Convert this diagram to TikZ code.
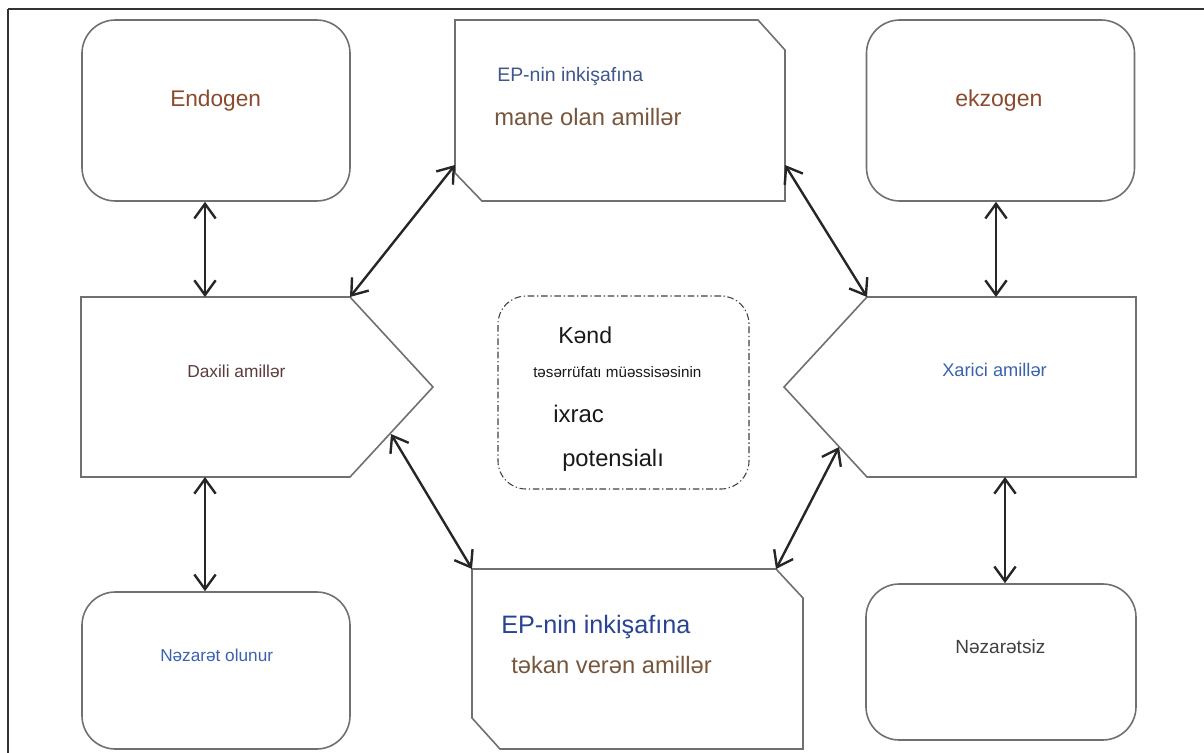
\documentclass[tikz,border=0pt]{standalone}
\usepackage{fontspec}
\setmainfont{Liberation Sans}
\usetikzlibrary{arrows.meta}

\definecolor{boxgray}{RGB}{112,112,112}
\definecolor{rustbrown}{RGB}{139,74,46}
\definecolor{mudbrown}{RGB}{120,86,60}
\definecolor{darkbrown}{RGB}{92,60,58}
\definecolor{slateblue}{RGB}{62,86,138}
\definecolor{deepblue}{RGB}{40,68,146}
\definecolor{midblue}{RGB}{58,98,176}

\begin{document}
\begin{tikzpicture}[x=0.75pt, y=-0.75pt,
    every node/.style={inner sep=0pt},
    outline/.style={draw=boxgray, line width=1.2pt},
    roundbox/.style={outline, rounded corners=25pt, minimum width=201pt},
    link/.style={{Straight Barb[length=11pt,width=16pt]}-{Straight Barb[length=11pt,width=16pt]}, line width=1.8pt, black!85},
    lbl/.style={anchor=base west}]
    \useasboundingbox (0,0) rectangle (1204,753);

    % frame
    \draw[line width=1.1pt, black!80] (8,9) -- (1204,9);
    \draw[line width=1.1pt, black!80] (8,9) -- (8,753);

    % rounded boxes
    \node[roundbox, minimum height=135.75pt] (endo) at (216,110.5) {};
    \node[roundbox, minimum height=135.75pt] (ekzo) at (1000.5,110.5) {};
    \node[roundbox, minimum height=117.75pt] (nezol) at (216,670.5) {};
    \node[roundbox, minimum height=117pt, minimum width=202.5pt] (nezsiz) at (1001,662) {};
    \node[draw=black!75, line width=0.8pt, dash pattern=on 5pt off 2pt on 1pt off 2pt,
          rounded corners=21pt, minimum width=188.25pt, minimum height=144.75pt] (core) at (623.5,392.5) {};

    % cut boxes and pointers
    \draw[outline] (455,20) -- (758,20) -- (785,50) -- (785,201) -- (482,201) -- (455,173) -- cycle;
    \draw[outline] (472,569) -- (776,569) -- (803,598) -- (803,749) -- (500,749) -- (472,718) -- cycle;
    \draw[outline] (81,297) -- (350,297) -- (433,387) -- (350,477) -- (81,477) -- cycle;
    \draw[outline] (867,297) -- (1136,297) -- (1136,477) -- (867,477) -- (784,387) -- cycle;

    \coordinate (daxN) at (205,297);
    \coordinate (daxS) at (205,477);
    \coordinate (daxNE) at (350,297);
    \coordinate (daxSE) at (391,434);
    \coordinate (xarN) at (996,297);
    \coordinate (xarS) at (1005,477);
    \coordinate (xarNW) at (867,297);
    \coordinate (xarSW) at (839,447);
    \coordinate (maneW) at (455,165);
    \coordinate (maneE) at (785,165);
    \coordinate (tekNW) at (472,569);
    \coordinate (tekNE) at (776,569);

    % texts
    \node[lbl, font=\fontsize{17}{20}\selectfont, text=rustbrown] (endoT) at (170,106) {Endogen};
    \node[lbl, font=\fontsize{17.3}{20}\selectfont, text=rustbrown] (ekzoT) at (955,106) {ekzogen};
    \node[lbl, font=\fontsize{14.6}{18}\selectfont, text=slateblue] (maneA) at (497,81) {EP-nin inkişafına};
    \node[lbl, font=\fontsize{17.8}{20}\selectfont, text=mudbrown] (maneB) at (494,125) {mane olan amillər};
    \node[lbl, font=\fontsize{13}{16}\selectfont, text=darkbrown] (daxT) at (187,377) {Daxili amillər};
    \node[lbl, font=\fontsize{13.7}{16}\selectfont, text=midblue] (xarT) at (942,376) {Xarici amillər};
    \node[lbl, font=\fontsize{17.3}{20}\selectfont, text=black!90] (coreA) at (558,343) {Kənd};
    \node[lbl, font=\fontsize{11.4}{14}\selectfont, text=black!90] (coreB) at (533,377) {təsərrüfatı müəssisəsinin};
    \node[lbl, font=\fontsize{18}{20}\selectfont, text=black!90] (coreC) at (553,422) {ixrac};
    \node[lbl, font=\fontsize{17.8}{20}\selectfont, text=black!90] (coreD) at (562,466) {potensialı};
    \node[lbl, font=\fontsize{12.9}{16}\selectfont, text=midblue] (nezolT) at (160,661) {Nəzarət olunur};
    \node[lbl, font=\fontsize{18.9}{22}\selectfont, text=deepblue] (tekA) at (501,633) {EP-nin inkişafına};
    \node[lbl, font=\fontsize{17.8}{20}\selectfont, text=mudbrown] (tekB) at (511,673) {təkan verən amillər};
    \node[lbl, font=\fontsize{14.3}{17}\selectfont, text=black!75] (nezsizT) at (955,653) {Nəzarətsiz};

    % connectors
    \draw[link] (endo.south -| daxN) -- (daxN);
    \draw[link] (daxS) -- (nezol.north -| daxS);
    \draw[link] (ekzo.south -| xarN) -- (xarN);
    \draw[link] (xarS) -- (nezsiz.north -| xarS);
    \draw[link] (daxNE) -- (maneW);
    \draw[link] (maneE) -- (xarNW);
    \draw[link] (daxSE) -- (tekNW);
    \draw[link] (tekNE) -- (xarSW);
\end{tikzpicture}
\end{document}
